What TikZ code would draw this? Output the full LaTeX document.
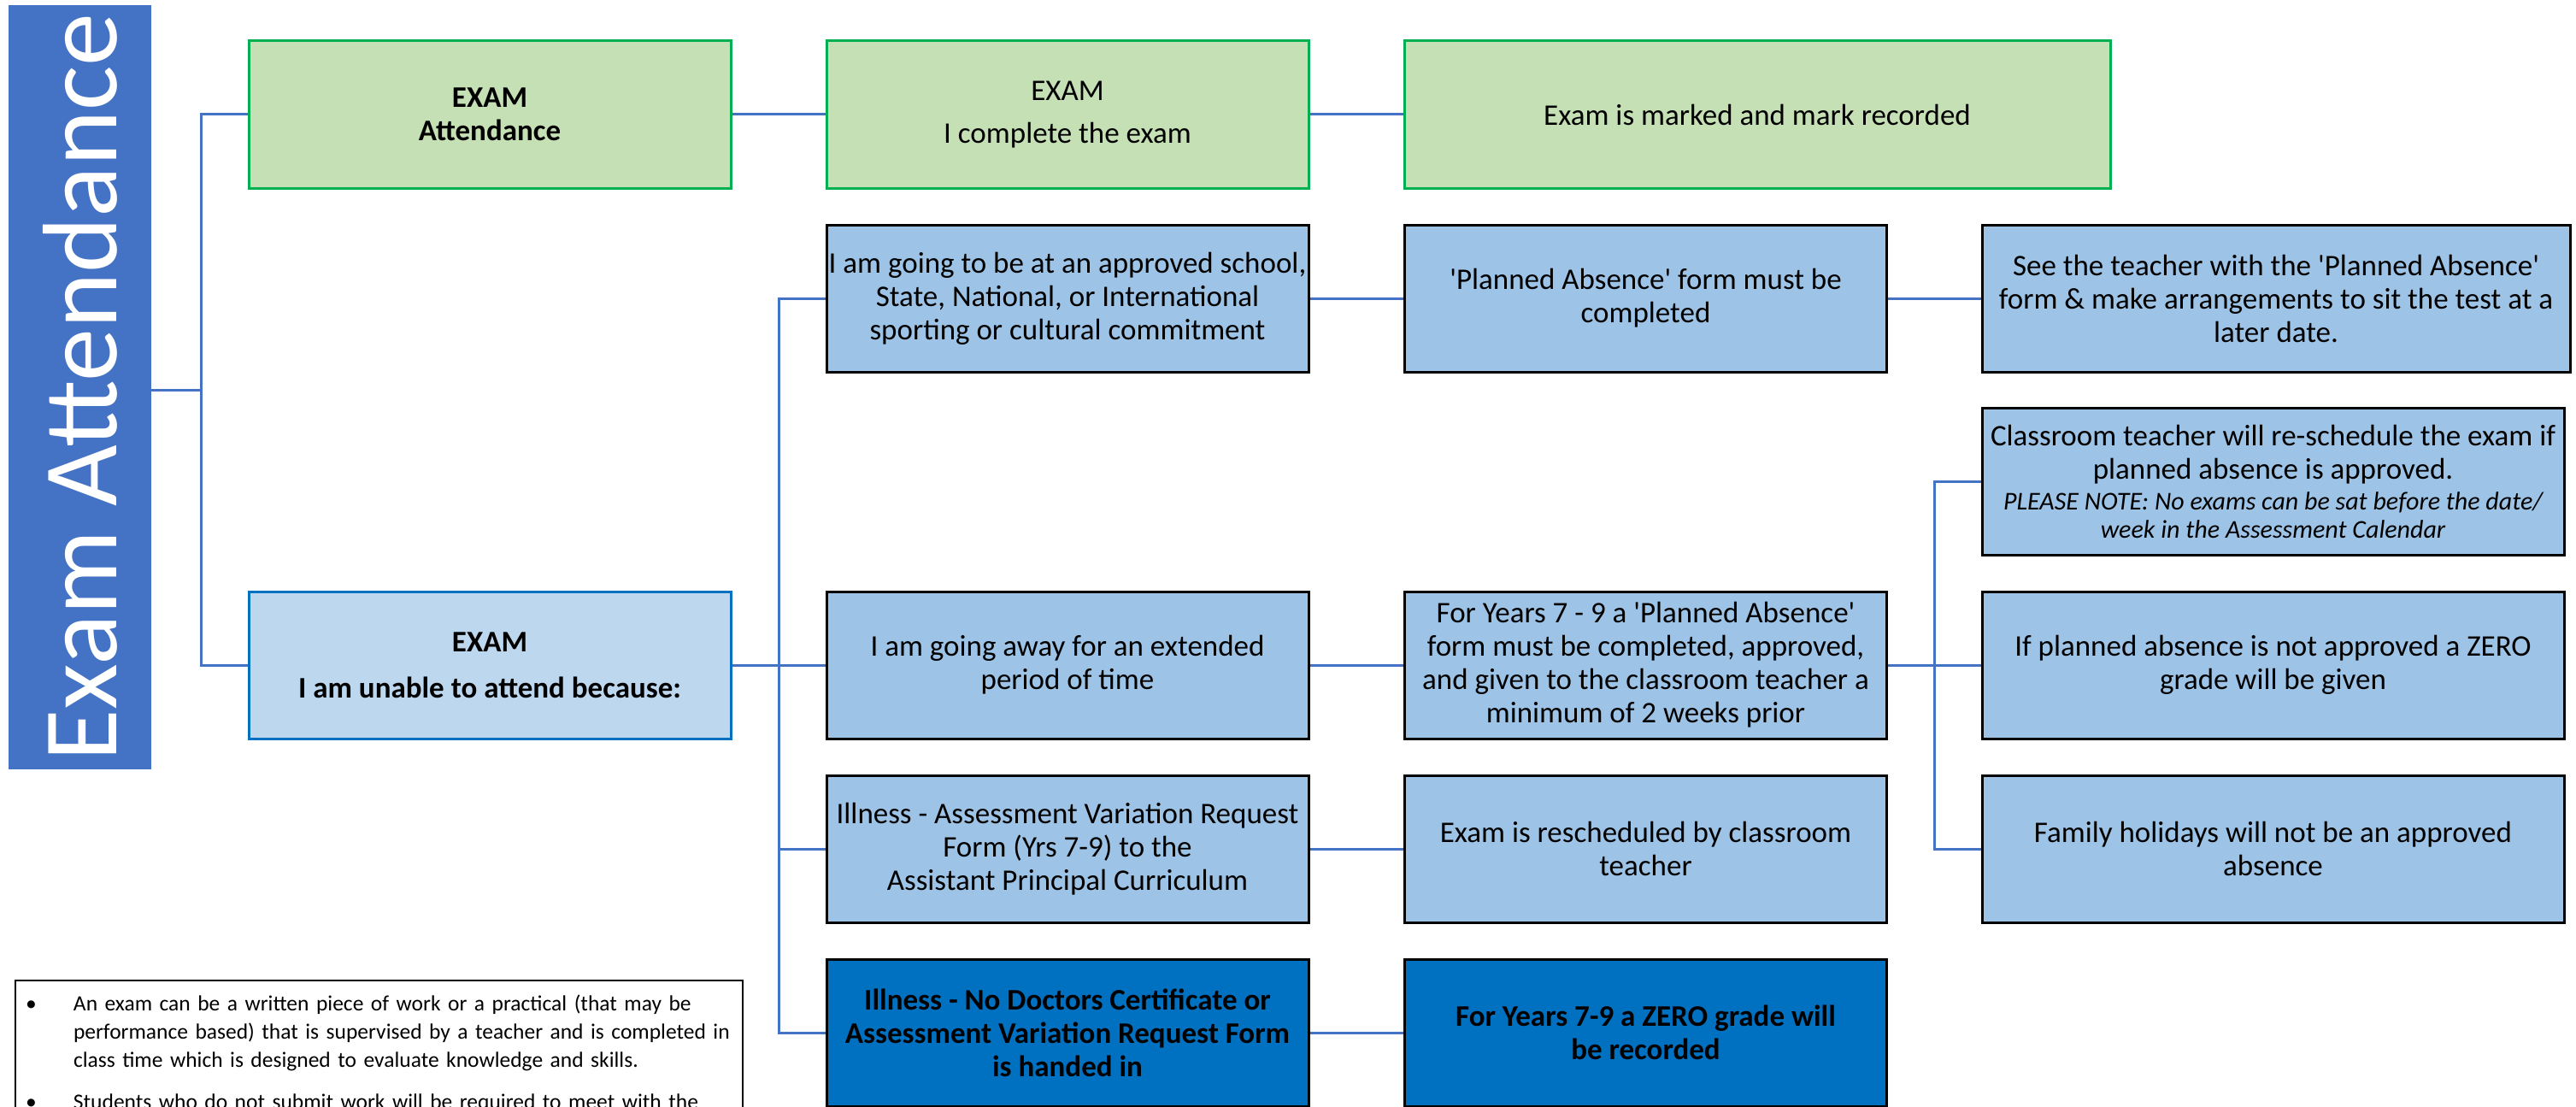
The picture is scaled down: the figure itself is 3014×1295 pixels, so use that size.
\documentclass[tikz,border=0pt]{standalone}
\usepackage{fontspec}
\setmainfont{Carlito}[Ligatures=TeXOff]
\definecolor{titleblue}{HTML}{4472C4}
\definecolor{linkblue}{HTML}{4472C4}
\definecolor{attgreen}{HTML}{C5E0B4}
\definecolor{attedge}{HTML}{00B050}
\definecolor{paleblue}{HTML}{BDD7EE}
\definecolor{midblue}{HTML}{9DC3E6}
\definecolor{deepblue}{HTML}{0070C0}
\newcommand{\boxfont}{\fontsize{35}{39}\selectfont}
\newcommand{\notefont}{\fontsize{30}{32}\selectfont\itshape}
\tikzset{every node/.style={align=center, inner sep=0pt, font=\boxfont},
 box/.style={draw=black, line width=3pt, fill=midblue,
  minimum width=564pt, minimum height=172pt},
 widebox/.style={box, minimum width=681pt},
 attbox/.style={box, draw=attedge, fill=attgreen},
 unablebox/.style={box, draw=deepblue, fill=paleblue, font=\boxfont\bfseries},
 darkbox/.style={box, fill=deepblue, font=\boxfont\bfseries},
 titlebar/.style={fill=titleblue, text=white, rotate=90,
  minimum width=894pt, minimum height=167pt,
  font=\fontsize{124}{124}\selectfont},
 notebox/.style={draw=black, line width=2pt, fill=white, align=left,
  text width=851pt, inner ysep=12pt, font=\fontsize{25.5}{33}\selectfont},
 link/.style={draw=linkblue, line width=3pt},
 }

\begin{document}
\begin{tikzpicture}[x=1pt,y=-1pt]
        \clip (0,0) rectangle (3014,1295);
        \fill[white] (0,0) rectangle (3014,1295);
        \node[titlebar] (title) at (93.5,453) {Exam Attendance};
        \node[attbox, font=\boxfont\bfseries] (att) at (573,134) {EXAM\\Attendance};
        \node[unablebox] (unable) at (573,778) {EXAM\\[15pt]I am unable to attend because:};
        \node[attbox] (complete) at (1249,134) {\raisebox{-6pt}{EXAM}\\[17pt]I complete the exam};
        \node[attbox, minimum width=826pt] (marked) at (2056,134) {Exam is marked and mark recorded};
        \node[box] (school) at (1249,349) {I am going to be at an approved school,\\State, National, or International\\sporting or cultural commitment};
        \node[box] (away) at (1249,778) {I am going away for an extended\\period of time};
        \node[box] (ill) at (1249,993) {Illness - Assessment Variation Request\\Form (Yrs 7-9) to the\\Assistant Principal Curriculum};
        \node[darkbox] (nodoc) at (1249,1208) {Illness - No Doctors Certificate or\\Assessment Variation Request Form\\is handed in};
        \node[box] (form) at (1925.5,349) {'Planned Absence' form must be\\completed};
        \node[box] (years) at (1925.5,778) {For Years 7 - 9 a 'Planned Absence'\\form must be completed, approved,\\and given to the classroom teacher a\\minimum of 2 weeks prior};
        \node[box] (resched) at (1925.5,993) {Exam is rescheduled by classroom\\teacher};
        \node[darkbox] (zero) at (1925.5,1208) {For Years 7-9 a ZERO grade will\\be recorded};
        \node[widebox, minimum width=688pt] (see) at (2663,349) {See the teacher with the 'Planned Absence'\\form \& make arrangements to sit the test at a\\later date.};
        \node[widebox] (classroom) at (2659.5,563) {Classroom teacher will re-schedule the exam if\\planned absence is approved.\\[-3pt]{\notefont PLEASE NOTE: No exams can be sat before the date/}\\[-6pt]{\notefont week in the Assessment Calendar}};
        \node[widebox] (notok) at (2659.5,778) {If planned absence is not approved a ZERO\\grade will be given};
        \node[widebox] (family) at (2659.5,993) {Family holidays will not be an approved\\absence};
        \node[notebox, anchor=north west] (note) at (17,1146) {%
          \begin{tabular}{@{}p{68pt}@{}l@{}}
          \hspace*{12pt}\textbullet & An exam can be a written piece of work or a practical (that may be\\
           & performance based) that is supervised by a teacher and is completed in\\
           & class time which is designed to evaluate knowledge and skills.\\[16pt]
          \hspace*{12pt}\textbullet & Students who do not submit work will be required to meet with the\\
          \end{tabular}};
        \coordinate (j1) at (235,456);
        \coordinate (j2) at (911,778);
        \coordinate (j3) at (2263,778);
        \draw[link] (title.south |- j1) -- (j1);
        \draw[link] (att.west) -| (j1) |- (unable.west);
        \draw[link] (complete) -- (att);
        \draw[link] (complete) -- (marked);
        \draw[link] (unable) -- (away);
        \draw[link] (school.west) -| (j2) |- (nodoc.west);
        \draw[link] (j2 |- ill.west) -- (ill.west);
        \draw[link] (school) -- (form);
        \draw[link] (away) -- (years);
        \draw[link] (ill) -- (resched);
        \draw[link] (nodoc) -- (zero);
        \draw[link] (form) -- (see);
        \draw[link] (years) -- (notok);
        \draw[link] (classroom.west) -| (j3) |- (family.west);
    \end{tikzpicture}
\end{document}
